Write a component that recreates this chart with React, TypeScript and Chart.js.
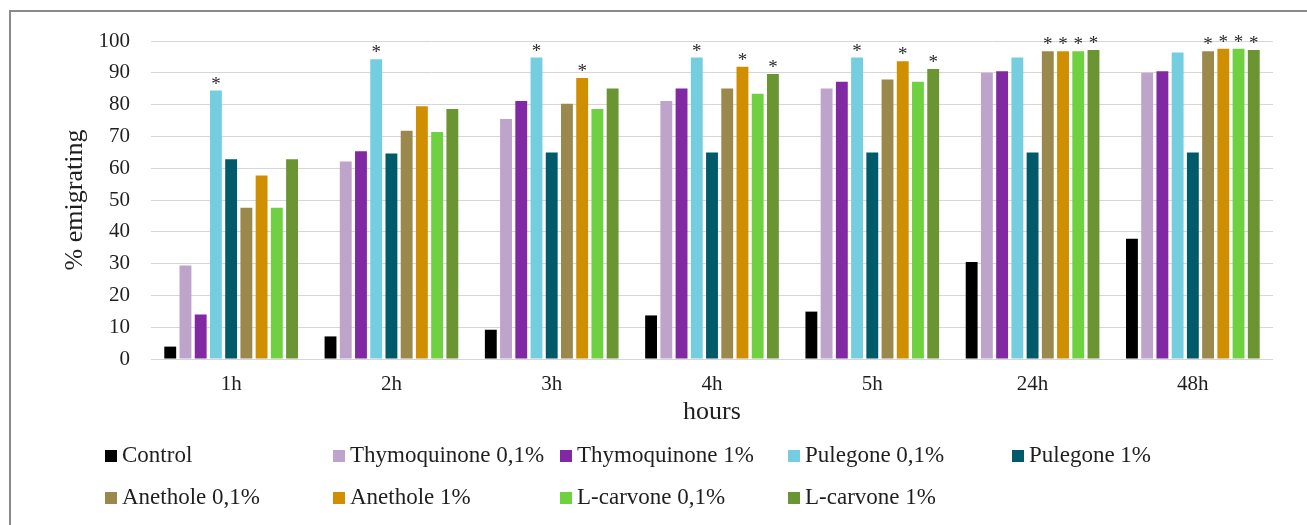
import React, { useEffect, useRef } from "react";
import { Chart, registerables } from "chart.js";

Chart.register(...registerables);

const hours = ["1h", "2h", "3h", "4h", "5h", "24h", "48h"];
const yTicks = [0, 10, 20, 30, 40, 50, 60, 70, 80, 90, 100];

const control = [3.9, 7.1, 9.2, 13.7, 14.9, 30.5, 37.8];
const thymo01 = [29.4, 62.1, 75.5, 81.1, 85.1, 90.0, 90.0];
const thymo1 = [14.0, 65.3, 81.1, 85.1, 87.2, 90.5, 90.5];
const pule01 = [84.4, 94.3, 94.8, 94.8, 94.8, 94.8, 96.4];
const pule1 = [62.8, 64.6, 64.9, 64.9, 64.9, 64.9, 64.9];
const anet01 = [47.6, 71.8, 80.3, 85.1, 87.9, 96.8, 96.8];
const anet1 = [57.7, 79.5, 88.4, 91.9, 93.6, 96.8, 97.6];
const lcar01 = [47.6, 71.4, 78.6, 83.4, 87.2, 96.8, 97.6];
const lcar1 = [62.8, 78.6, 85.1, 89.6, 91.2, 97.2, 97.2];

// significance markers (*) per series
const controlSig = [0, 0, 0, 0, 0, 0, 0];
const thymo01Sig = [0, 0, 0, 0, 0, 0, 0];
const thymo1Sig = [0, 0, 0, 0, 0, 0, 0];
const pule01Sig = [1, 1, 1, 1, 1, 0, 0];
const pule1Sig = [0, 0, 0, 0, 0, 0, 0];
const anet01Sig = [0, 0, 0, 0, 0, 1, 1];
const anet1Sig = [0, 0, 1, 1, 1, 1, 1];
const lcar01Sig = [0, 0, 0, 0, 0, 1, 1];
const lcar1Sig = [0, 0, 0, 1, 1, 1, 1];

const seriesNames = [
  "Control",
  "Thymoquinone 0,1%",
  "Thymoquinone 1%",
  "Pulegone 0,1%",
  "Pulegone 1%",
  "Anethole 0,1%",
  "Anethole 1%",
  "L-carvone 0,1%",
  "L-carvone 1%",
];
const seriesValues = [control, thymo01, thymo1, pule01, pule1, anet01, anet1, lcar01, lcar1];
const seriesSig = [controlSig, thymo01Sig, thymo1Sig, pule01Sig, pule1Sig, anet01Sig, anet1Sig, lcar01Sig, lcar1Sig];
const seriesColors = [
  "#000000",
  "#BEA3CB",
  "#8029A3",
  "#74CEE0",
  "#005A69",
  "#9A884D",
  "#CF8F00",
  "#6FD140",
  "#6B9532",
];

const FONT = "'Liberation Serif', 'Times New Roman', serif";
const TEXT = "#1f1f1f";

const starsPlugin = {
  id: "stars",
  afterDatasetsDraw(chart: any) {
    const ctx = chart.ctx;
    ctx.save();
    ctx.fillStyle = "#2a2a2a";
    ctx.font = `19px ${FONT}`;
    ctx.textAlign = "center";
    ctx.textBaseline = "alphabetic";
    seriesSig.forEach((sig, d) => {
      const meta = chart.getDatasetMeta(d);
      sig.forEach((s, i) => {
        if (!s) return;
        const el = meta.data[i];
        if (!el) return;
        ctx.fillText("*", el.x, el.y - 1);
      });
    });
    ctx.restore();
  },
};

const legendPlugin = {
  id: "gridLegend",
  afterDraw(chart: any) {
    const ctx = chart.ctx;
    const cols = [105, 333, 560, 788, 1012];
    const rows = [456, 498];
    ctx.save();
    ctx.font = `23px ${FONT}`;
    ctx.textAlign = "left";
    ctx.textBaseline = "middle";
    chart.data.datasets.forEach((ds: any, i: number) => {
      const c = i % 5;
      const r = Math.floor(i / 5);
      const x = cols[c];
      const y = rows[r];
      ctx.fillStyle = ds.backgroundColor;
      ctx.fillRect(x, y - 6, 12, 12);
      ctx.fillStyle = TEXT;
      ctx.fillText(ds.label, x + 17, y);
    });
    ctx.restore();
  },
};

export default function App() {
  const ref = useRef<HTMLCanvasElement | null>(null);

  useEffect(() => {
    if (!ref.current) return;
    const chart = new Chart(ref.current, {
      type: "bar",
      data: {
        labels: hours,
        datasets: seriesNames.map((name, i) => ({
          label: name,
          data: seriesValues[i],
          backgroundColor: seriesColors[i],
          borderWidth: 0,
          barPercentage: 0.78,
          categoryPercentage: 0.855,
        })),
      },
      options: {
        responsive: false,
        animation: false,
        devicePixelRatio: 1,
        layout: { padding: { left: 0, right: 34, top: 41, bottom: 96 } },
        plugins: {
          legend: { display: false },
          tooltip: { enabled: false },
        },
        scales: {
          x: {
            grid: { display: false },
            border: { display: false },
            ticks: { font: { family: FONT, size: 21 }, color: TEXT, padding: 5 },
            title: {
              display: true,
              text: "hours",
              font: { family: FONT, size: 26 },
              color: TEXT,
              padding: { top: 0, bottom: 1 },
            },
            afterFit: (scale: any) => {
              scale.height = 70;
            },
          },
          y: {
            min: 0,
            max: 100,
            afterBuildTicks: (scale: any) => {
              scale.ticks = yTicks.map((v) => ({ value: v }));
            },
            grid: { color: "#d6d6d6", lineWidth: 1, drawTicks: false },
            border: { display: false },
            ticks: { font: { family: FONT, size: 21 }, color: TEXT, padding: 21 },
            title: {
              display: true,
              text: "% emigrating",
              font: { family: FONT, size: 26 },
              color: TEXT,
              padding: { top: 60, bottom: 0 },
            },
            afterFit: (scale: any) => {
              scale.width = 151;
            },
          },
        },
      },
      plugins: [starsPlugin, legendPlugin],
    });
    return () => chart.destroy();
  }, []);

  return (
    <div style={{ position: "absolute", left: 0, top: 0, width: 1307, height: 525, background: "#fff", overflow: "hidden" }}>
      <div
        style={{
          position: "absolute",
          left: 9,
          top: 10,
          width: 1310,
          height: 530,
          borderLeft: "2px solid #8a8a8a",
          borderTop: "2px solid #8a8a8a",
        }}
      />
      <canvas ref={ref} width={1307} height={525} style={{ position: "absolute", left: 0, top: 0, width: 1307, height: 525 }} />
    </div>
  );
}
